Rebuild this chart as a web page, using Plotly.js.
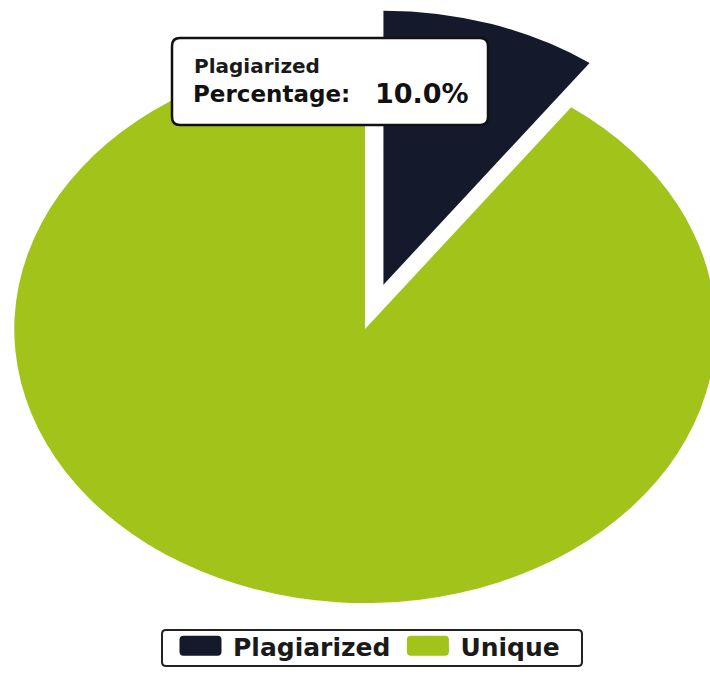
<!DOCTYPE html>
<html>
<head>
<meta charset="utf-8">
<script src="https://cdn.plot.ly/plotly-3.0.1.min.js"></script>
<style>
html,body{margin:0;padding:0;background:#fff;overflow:hidden;}
#chart{width:710px;height:675px;}
</style>
</head>
<body>
<div id="chart"></div>
<script>
// ---- data ----
const labels = ['Plagiarized', 'Unique'];
const values = [10, 90];
const colors = ['#141a2b', '#a2c41a'];
const pulls = [0.17, 0];
const tipTitle = 'Plagiarized';
const tipLabel = 'Percentage:';
const tipValue = '10.0%';

// ---- layout helpers (final pixel -> paper) ----
const W = 710, H = 675;
const px = x => x / W;
const py = y => 1 - y / H;

const CX = 365, CY = 329, R = 274, SX = 1.28;
const half = R * (1 + Math.max(...pulls));

function roundRect(x0, y0, x1, y1, r) {
  const X = v => px(v), Y = v => py(v);
  return 'M' + X(x0 + r) + ',' + Y(y0) +
    ' L' + X(x1 - r) + ',' + Y(y0) +
    ' Q' + X(x1) + ',' + Y(y0) + ' ' + X(x1) + ',' + Y(y0 + r) +
    ' L' + X(x1) + ',' + Y(y1 - r) +
    ' Q' + X(x1) + ',' + Y(y1) + ' ' + X(x1 - r) + ',' + Y(y1) +
    ' L' + X(x0 + r) + ',' + Y(y1) +
    ' Q' + X(x0) + ',' + Y(y1) + ' ' + X(x0) + ',' + Y(y1 - r) +
    ' L' + X(x0) + ',' + Y(y0 + r) +
    ' Q' + X(x0) + ',' + Y(y0) + ' ' + X(x0 + r) + ',' + Y(y0) + ' Z';
}

const FONT = 'DejaVu Sans, Verdana, sans-serif';

const trace = {
  type: 'pie',
  labels: labels,
  values: values,
  pull: pulls,
  sort: false,
  direction: 'clockwise',
  rotation: 0,
  textinfo: 'none',
  hoverinfo: 'none',
  marker: { colors: colors, line: { width: 0 } },
  domain: {
    x: [px(CX - half), px(CX + half)],
    y: [py(CY + half), py(CY - half)]
  }
};

const layout = {
  width: W, height: H,
  margin: { l: 0, r: 0, t: 0, b: 0 },
  paper_bgcolor: '#ffffff',
  showlegend: true,
  legend: {
    orientation: 'h',
    x: px(168), xanchor: 'left',
    y: py(623), yanchor: 'top',
    bgcolor: 'rgba(0,0,0,0)',
    borderwidth: 0,
    itemwidth: 55,
    font: { family: FONT, size: 25, color: '#1a1a1a', weight: 'bold' },
    itemclick: false, itemdoubleclick: false
  },
  shapes: [
    {
      type: 'path', xref: 'paper', yref: 'paper', layer: 'above',
      path: roundRect(172, 38, 488, 125, 8),
      fillcolor: '#ffffff',
      line: { color: '#111111', width: 2.5 }
    },
    {
      type: 'path', xref: 'paper', yref: 'paper', layer: 'above',
      path: roundRect(162, 630, 582, 666, 4),
      fillcolor: '#ffffff',
      line: { color: '#222222', width: 2 }
    }
  ],
  annotations: [
    {
      xref: 'paper', yref: 'paper', x: px(192), y: py(66),
      xanchor: 'left', yanchor: 'middle', showarrow: false,
      text: '<b>' + tipTitle + '</b>',
      font: { family: FONT, size: 20, color: '#1a1a1a' }
    },
    {
      xref: 'paper', yref: 'paper', x: px(191), y: py(94),
      xanchor: 'left', yanchor: 'middle', showarrow: false,
      text: '<b>' + tipLabel + '</b>',
      font: { family: FONT, size: 23, color: '#111111' }
    },
    {
      xref: 'paper', yref: 'paper', x: px(373), y: py(93),
      xanchor: 'left', yanchor: 'middle', showarrow: false,
      text: '<b>' + tipValue + '</b>',
      font: { family: FONT, size: 27, color: '#111111' }
    }
  ]
};

Plotly.newPlot('chart', [trace], layout, { staticPlot: true, displayModeBar: false }).then(function (gd) {
  // stretch the pie horizontally into an ellipse about its centre
  const pl = gd.querySelector('.pielayer');
  if (pl) pl.setAttribute('transform', 'translate(' + CX + ',0) scale(' + SX + ',1) translate(' + (-CX) + ',0)');
  // larger rounded legend swatches
  gd.querySelectorAll('.legend .legendpoints path').forEach(function (p) {
    p.setAttribute('d', 'M-17,-10H17Q21,-10 21,-6V6Q21,10 17,10H-17Q-21,10 -21,6V-6Q-21,-10 -17,-10Z');
  });
});
</script>
</body>
</html>
